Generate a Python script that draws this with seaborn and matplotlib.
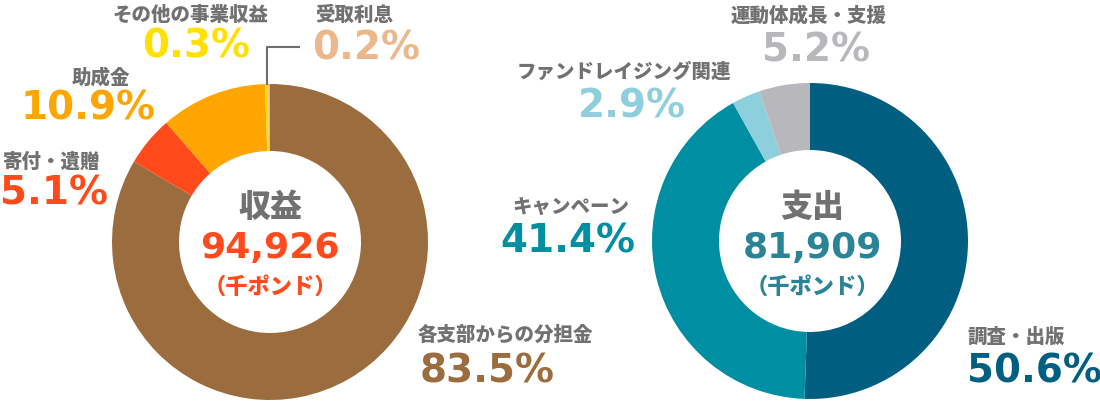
import matplotlib
matplotlib.use("Agg")
import matplotlib.pyplot as plt
import seaborn as sns

sns.set_theme(style="white")
plt.rcParams['font.family'] = ['Noto Sans CJK JP', 'DejaVu Sans']

# ---- data ----
income_labels = ["各支部からの分担金", "寄付・遺贈", "助成金", "その他の事業収益", "受取利息"]
income_values = [83.5, 5.1, 10.9, 0.3, 0.2]
income_colors = ["#9B6C3D", "#FF4A1C", "#FFA500", "#FFE000", "#EBB88C"]
income_total = "94,926"
income_title = "収益"

expense_labels = ["調査・出版", "キャンペーン", "ファンドレイジング関連", "運動体成長・支援"]
expense_values = [50.6, 41.4, 2.9, 5.2]
expense_colors = ["#005F80", "#008EA2", "#8DCFDC", "#B8B7BB"]
expense_total = "81,909"
expense_title = "支出"
unit = "（千ポンド）"

W, H = 1100, 406
fig = plt.figure(figsize=(W / 100, H / 100), dpi=100)
ax = fig.add_axes([0, 0, 1, 1])

def Y(y):
    return H - y

R = 158
hole = 91
ax.pie(income_values, colors=income_colors, startangle=90, counterclock=False,
       center=(270, Y(243)), radius=R, wedgeprops=dict(width=R - hole, linewidth=0))
ax.pie(expense_values, colors=expense_colors, startangle=90, counterclock=False,
       center=(810, Y(242)), radius=R, wedgeprops=dict(width=R - hole, linewidth=0))
ax.set_xlim(0, W)
ax.set_ylim(0, H)
ax.set_aspect("equal")
ax.axis("off")

grey = "#717171"
cjk = ['Noto Sans CJK JP', 'DejaVu Sans']
num = ['DejaVu Sans', 'Noto Sans CJK JP']

def label(x, y, text, ha="center"):
    ax.text(x, Y(y + 2), text, ha=ha, va="center", fontsize=14, fontweight="heavy",
            color=grey, family=cjk)

def pct(x, y, value, color, ha="center"):
    ax.text(x, Y(y + 4), f"{value}%", ha=ha, va="center", fontsize=28, fontweight="bold",
            color=color, family=num)

# income labels: (label pos, pct pos, ha)
inc_pos = [((418, 333), (420, 368), "left"),
           ((52, 160), (54, 190), "center"),
           ((101, 76), (88, 105), "center"),
           ((190, 13), (196, 43), "center"),
           ((354, 13), (366, 45), "center")]
for lab, v, c, (lp, pp, ha) in zip(income_labels, income_values, income_colors, inc_pos):
    label(lp[0], lp[1], lab, ha)
    pct(pp[0], pp[1], v, c, ha)

exp_pos = [((967, 335), (967, 368), "left"),
           ((571, 205), (568, 238), "center"),
           ((624, 70), (632, 102), "center"),
           ((809, 14), (816, 47), "center")]
for lab, v, c, (lp, pp, ha) in zip(expense_labels, expense_values, expense_colors, exp_pos):
    label(lp[0], lp[1], lab, ha)
    pct(pp[0], pp[1], v, c, ha)

# leader line for 受取利息
ax.plot([266.5, 266.5, 300], [Y(86), Y(48), Y(48)], color="#6E6E6E", lw=1.5,
        solid_capstyle="butt")

# center texts
for cx, title, total, tcol in [(270, income_title, income_total, "#FF4A1C"),
                               (812, expense_title, expense_total, "#2A8496")]:
    ax.text(cx, Y(207), title, ha="center", va="center", fontsize=23, fontweight="heavy",
            color=grey, family=cjk)
    ax.text(cx, Y(248), total, ha="center", va="center", fontsize=26, fontweight="bold",
            color=tcol, family=num)
    ax.text(cx, Y(287), unit, ha="center", va="center", fontsize=16, fontweight="heavy",
            color=tcol, family=cjk)

fig.savefig("out.png", dpi=100)
